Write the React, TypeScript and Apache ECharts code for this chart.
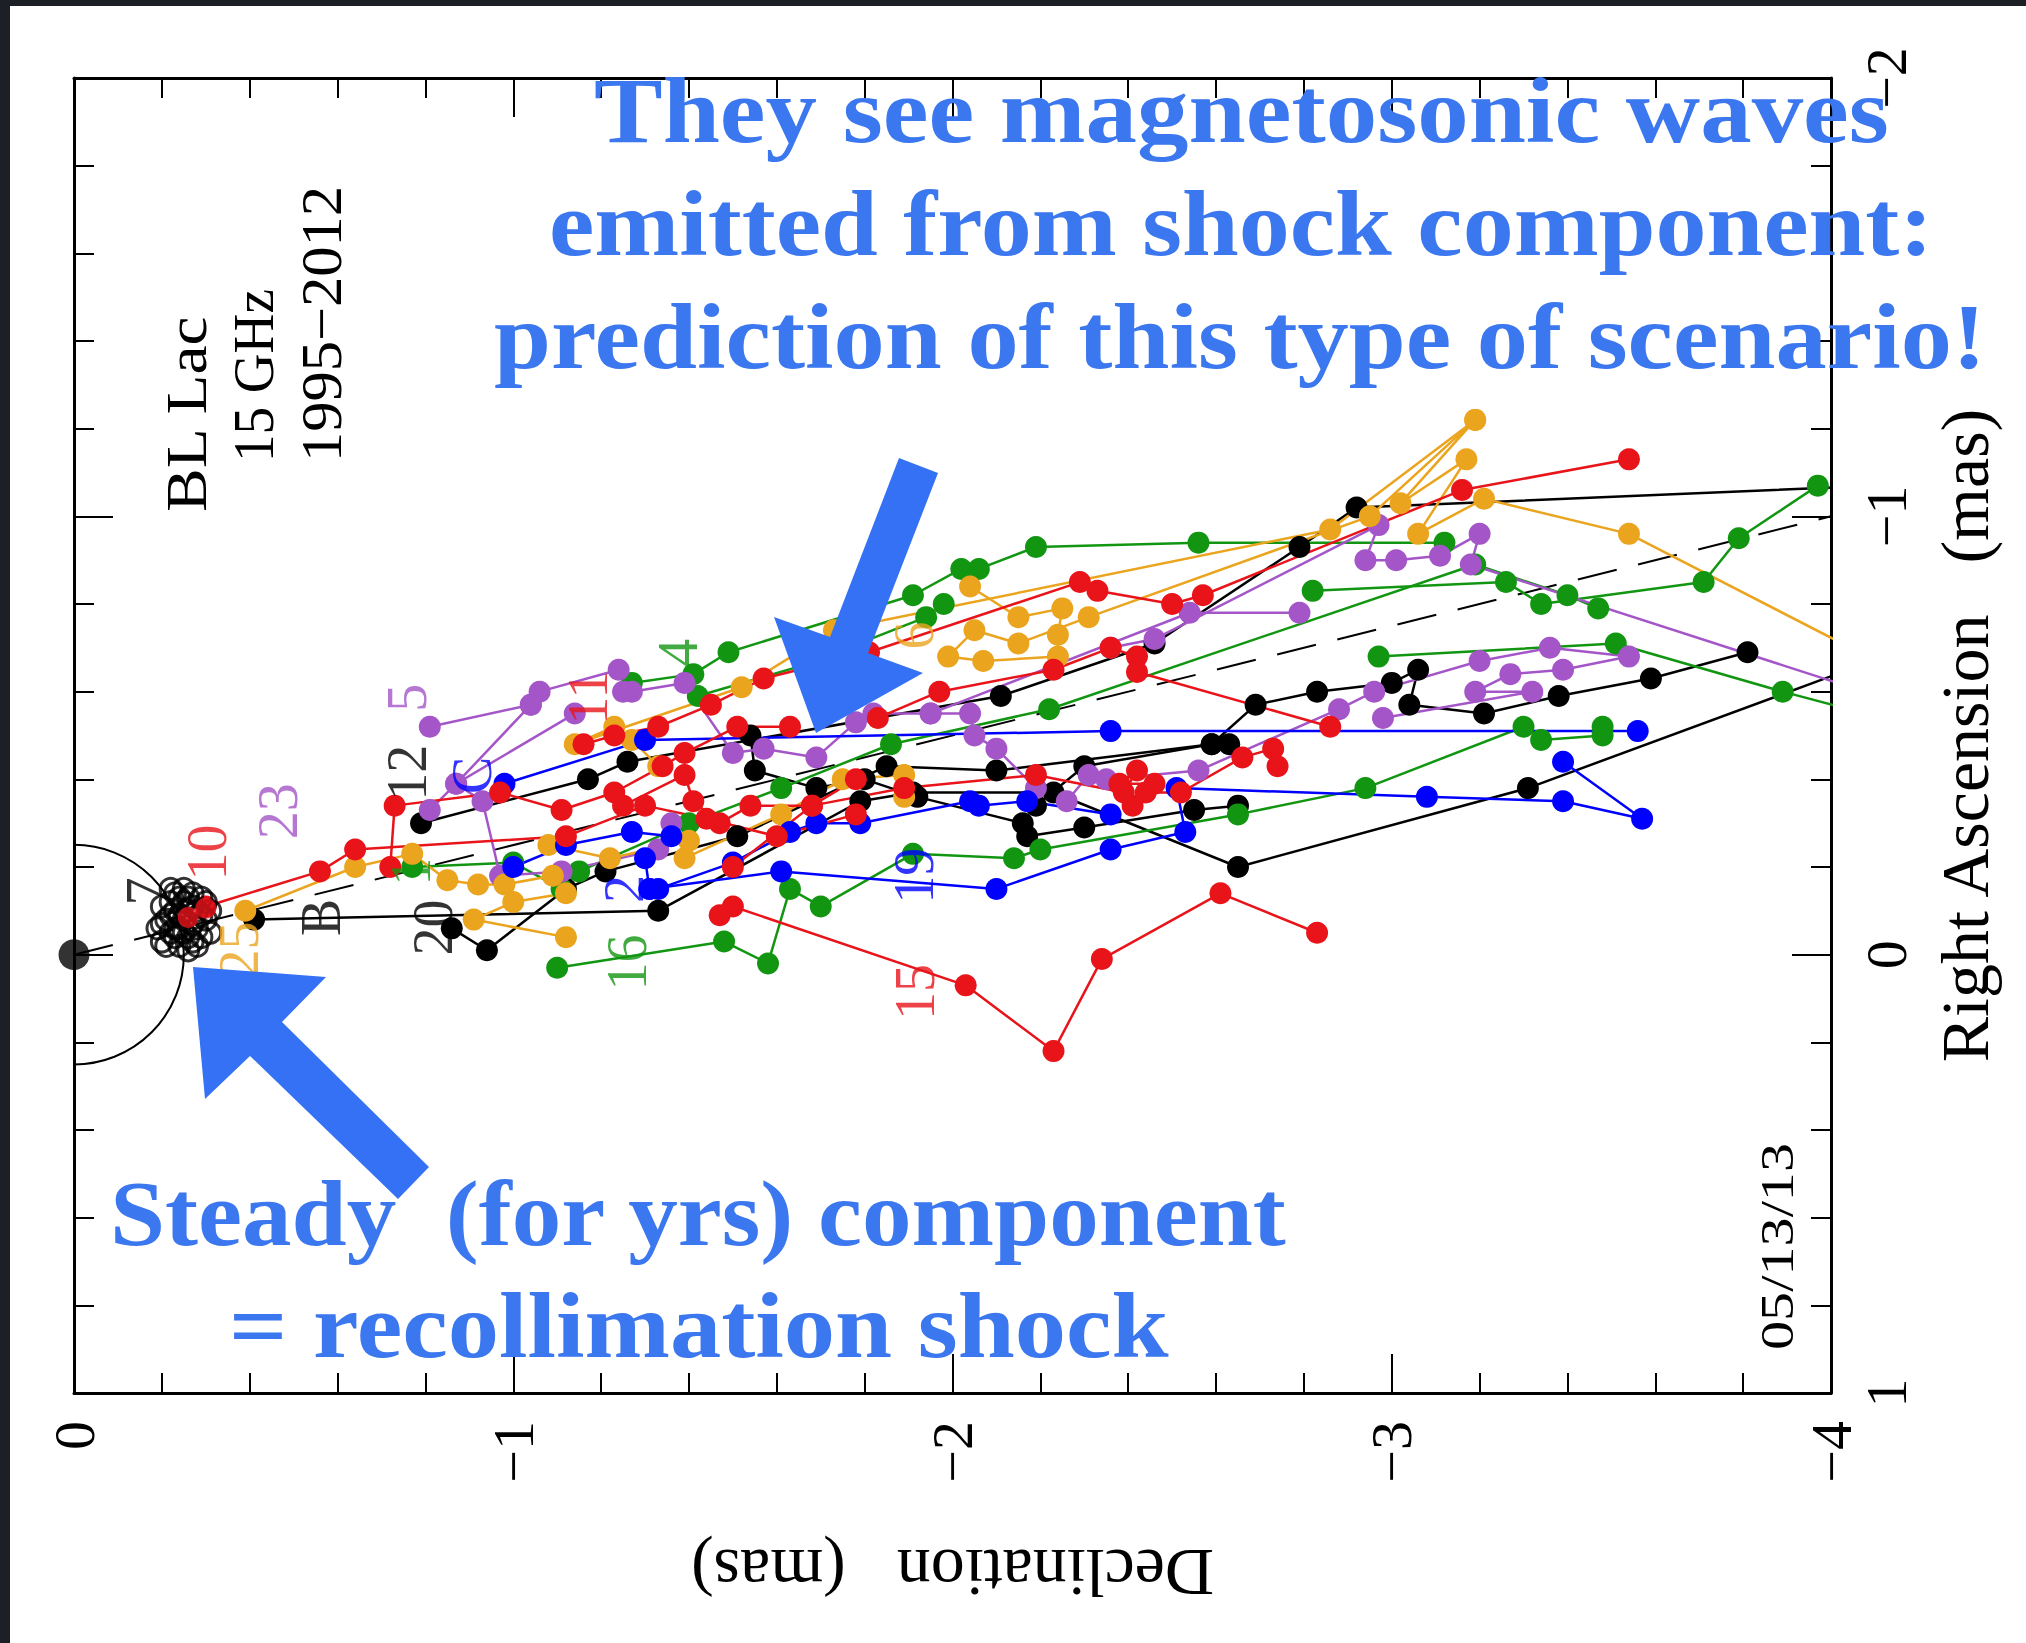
import React, { useEffect, useRef } from "react";
import * as echarts from "echarts";

// ---- axis tick labels ----
const xTickLabels: Record<string, string> = { "0": "0", "-1": "−1", "-2": "−2", "-3": "−3", "-4": "−4" };
const yTickLabels: Record<string, string> = { "-2": "−2", "-1": "−1", "0": "0", "1": "1" };

const COLORS: Record<string, string> = {
  k: "#000000",
  r: "#E8141A",
  g: "#129612",
  b: "#0000FF",
  p: "#A455C8",
  o: "#EBA41E",
};

// ---- component trajectories (Declination, Right Ascension) in mas ----
const compB = [[-0.41, -0.08], [-1.33, -0.1], [-1.79, -0.35], [-1.91, -0.37], [-2.23, -0.37], [-2.65, -0.2], [-3.31, -0.38], [-4.04, -0.65]];
const comp12 = [[-0.79, -0.3], [-1.17, -0.4], [-1.26, -0.44], [-2.11, -0.59], [-2.46, -0.71], [-2.79, -0.93], [-2.92, -1.02], [-4.1, -1.07]];
const comp20 = [[-0.86, -0.06], [-0.94, -0.01], [-1.12, -0.15], [-1.21, -0.19], [-1.51, -0.27], [-1.85, -0.43], [-2.1, -0.42], [-2.59, -0.48], [-2.69, -0.57], [-2.83, -0.6], [-3.0, -0.62], [-3.06, -0.65], [-3.04, -0.57], [-3.21, -0.55], [-3.38, -0.59], [-3.59, -0.63], [-3.81, -0.69]];
const compK4 = [[-1.54, -0.5], [-1.55, -0.42], [-1.69, -0.38], [-1.8, -0.4], [-1.92, -0.36], [-2.16, -0.3], [-2.17, -0.27], [-2.3, -0.29], [-2.55, -0.33], [-2.65, -0.34]];
const compK5 = [[-2.19, -0.34], [-2.3, -0.43], [-2.59, -0.48], [-2.63, -0.48]];

const comp10 = [[-0.3, -0.11], [-0.56, -0.19], [-0.64, -0.24], [-1.12, -0.27], [-1.3, -0.34], [-1.44, -0.31], [-1.6, -0.27], [-1.78, -0.32]];
const compR2 = [[-0.72, -0.2], [-0.73, -0.34], [-0.97, -0.37], [-1.11, -0.33], [-1.23, -0.37], [-1.34, -0.43], [-1.39, -0.46], [-1.51, -0.52], [-1.63, -0.52]];
const comp11 = [[-1.16, -0.48], [-1.23, -0.5], [-1.33, -0.52], [-1.45, -0.57], [-1.57, -0.63], [-1.81, -0.69], [-2.29, -0.85], [-2.33, -0.83], [-2.5, -0.8], [-2.57, -0.82], [-3.16, -1.06], [-3.54, -1.13]];
const comp15 = [[-1.47, -0.09], [-1.5, -0.11], [-2.03, 0.07], [-2.23, 0.22], [-2.34, 0.01], [-2.61, -0.14], [-2.83, -0.05]];
const compR7 = [[-1.5, -0.2], [-1.68, -0.34], [-1.89, -0.38], [-2.19, -0.41], [-2.39, -0.37], [-2.42, -0.42], [-2.38, -0.39], [-2.46, -0.39], [-2.41, -0.34], [-2.44, -0.37], [-2.52, -0.37], [-2.66, -0.45], [-2.73, -0.47], [-2.74, -0.43]];
const compR8 = [[-1.83, -0.54], [-1.97, -0.6], [-2.23, -0.65], [-2.36, -0.7], [-2.42, -0.68], [-2.42, -0.645], [-2.86, -0.52]];
const compR6 = [[-1.25, -0.34], [-1.39, -0.41], [-1.41, -0.35], [-1.47, -0.3], [-1.54, -0.34], [-1.68, -0.34], [-1.78, -0.4]];

const comp4 = [[-1.27, -0.62], [-1.41, -0.64], [-1.49, -0.69], [-1.91, -0.82], [-2.02, -0.88], [-2.06, -0.88], [-2.19, -0.93], [-2.56, -0.94], [-3.12, -0.94]];
const compG2 = [[-1.42, -0.59], [-1.66, -0.66], [-1.94, -0.77], [-1.98, -0.8]];
const comp1 = [[-0.77, -0.2], [-1.0, -0.21], [-1.11, -0.15], [-1.15, -0.19], [-1.4, -0.3], [-1.61, -0.38], [-1.86, -0.48], [-2.22, -0.56], [-3.19, -0.89], [-3.4, -0.82], [-3.47, -0.79]];
const compG5 = [[-2.82, -0.83], [-3.26, -0.85], [-3.34, -0.8], [-3.71, -0.85], [-3.79, -0.95], [-3.97, -1.07]];
const compG6 = [[-2.97, -0.68], [-3.51, -0.71], [-3.89, -0.6], [-4.04, -0.56]];
const comp16 = [[-1.1, 0.03], [-1.48, -0.03], [-1.58, 0.02], [-1.63, -0.15], [-1.7, -0.11], [-1.91, -0.23], [-2.14, -0.22], [-2.2, -0.24], [-2.65, -0.32], [-2.94, -0.38], [-3.3, -0.52], [-3.34, -0.49], [-3.48, -0.5], [-3.48, -0.52]];

const compC = [[-0.98, -0.39], [-1.3, -0.49], [-2.36, -0.51], [-3.56, -0.51]];
const comp2 = [[-1.0, -0.2], [-1.12, -0.25], [-1.27, -0.28], [-1.36, -0.27], [-1.3, -0.22], [-1.31, -0.15], [-1.33, -0.15], [-1.5, -0.21], [-1.63, -0.28], [-1.69, -0.3], [-1.79, -0.3], [-2.04, -0.35], [-2.06, -0.34], [-2.17, -0.35], [-2.36, -0.32]];
const comp19 = [[-1.31, -0.15], [-1.61, -0.19], [-2.1, -0.15], [-2.36, -0.24], [-2.53, -0.28], [-2.51, -0.38], [-3.08, -0.36], [-3.39, -0.35], [-3.57, -0.31], [-3.39, -0.44]];

const comp5 = [[-0.81, -0.52], [-1.04, -0.57], [-1.06, -0.6], [-1.24, -0.65]];
const compP5b = [[-1.04, -0.57], [-0.87, -0.39], [-1.14, -0.55]];
const comp23 = [[-0.81, -0.33], [-0.87, -0.39], [-0.93, -0.35], [-0.97, -0.18], [-1.11, -0.19], [-1.33, -0.24], [-1.36, -0.3]];
const compP2 = [[-1.25, -0.6], [-1.27, -0.6], [-1.39, -0.62], [-1.5, -0.46], [-1.57, -0.47], [-1.69, -0.45], [-1.78, -0.53], [-1.82, -0.55], [-1.95, -0.55], [-2.04, -0.55], [-2.05, -0.5], [-2.1, -0.47], [-2.19, -0.38], [-2.26, -0.35], [-2.31, -0.41], [-2.35, -0.4], [-2.56, -0.42], [-2.88, -0.56], [-2.96, -0.6], [-3.2, -0.67], [-3.36, -0.7], [-3.54, -0.68], [-3.39, -0.65], [-3.27, -0.64], [-3.19, -0.6], [-3.32, -0.6], [-2.98, -0.54]];
const compP3 = [[-2.36, -0.7], [-2.46, -0.72], [-2.97, -0.98], [-2.94, -0.9], [-3.01, -0.9], [-3.11, -0.91], [-3.2, -0.96], [-3.18, -0.89], [-4.2, -0.56]];
const compP4 = [[-1.95, -0.55], [-2.54, -0.78], [-2.79, -0.78]];

const comp25 = [[-0.39, -0.1], [-0.64, -0.2], [-0.77, -0.23], [-0.85, -0.17], [-0.92, -0.16], [-0.98, -0.16], [-1.09, -0.18], [-1.12, -0.14], [-1.0, -0.12], [-0.91, -0.08], [-1.12, -0.04]];
const compO2 = [[-1.08, -0.25], [-1.22, -0.22], [-1.4, -0.26], [-1.39, -0.22], [-1.61, -0.32], [-1.75, -0.4], [-1.89, -0.41], [-1.89, -0.36]];
const compO3 = [[-1.33, -0.43], [-1.27, -0.49], [-1.23, -0.52], [-1.14, -0.48], [-1.52, -0.61], [-1.73, -0.74], [-2.86, -0.97], [-3.19, -1.22]];
const comp6 = [[-2.04, -0.84], [-2.15, -0.77], [-2.25, -0.79], [-2.24, -0.73], [-2.24, -0.68], [-2.07, -0.67], [-1.99, -0.68], [-2.05, -0.74], [-2.15, -0.71], [-2.31, -0.77], [-2.95, -1.0], [-3.19, -1.22], [-3.02, -1.03], [-3.17, -1.13], [-3.06, -0.96], [-3.21, -1.04], [-3.54, -0.96], [-4.2, -0.62]];

// ---- core region ----
const coreRings = [
  [-0.2, -0.03], [-0.22, -0.05], [-0.24, -0.02], [-0.26, -0.04], [-0.28, -0.06], [-0.25, -0.08], [-0.23, -0.1],
  [-0.27, -0.11], [-0.29, -0.09], [-0.21, -0.08], [-0.19, -0.06], [-0.24, -0.13], [-0.27, -0.14], [-0.3, -0.12],
  [-0.22, -0.12], [-0.26, -0.01], [-0.2, -0.11], [-0.28, -0.02], [-0.31, -0.05], [-0.25, -0.15], [-0.23, -0.06],
  [-0.29, -0.13], [-0.21, -0.02], [-0.23, -0.04], [-0.25, -0.05], [-0.27, -0.07], [-0.24, -0.09], [-0.22, -0.09],
  [-0.26, -0.1], [-0.28, -0.1], [-0.3, -0.08], [-0.25, -0.12], [-0.23, -0.14], [-0.2, -0.07], [-0.27, -0.03],
  [-0.29, -0.04], [-0.24, -0.06], [-0.26, -0.13], [-0.31, -0.1], [-0.22, -0.15],
];
const coreRed = [[-0.26, -0.085], [-0.3, -0.106]];
const coreCenter = [[0, 0]];
const coreCircle = [[0, 0, 0.25]];
const jetAxis = [[0, 0], [-4, -1]];

// ---- component labels ----
const componentLabels = [
  { t: "7", c: "k", x: -0.165, y: -0.144 },
  { t: "10", c: "r", x: -0.303, y: -0.233 },
  { t: "23", c: "p", x: -0.465, y: -0.327 },
  { t: "5", c: "p", x: -0.759, y: -0.586 },
  { t: "12", c: "k", x: -0.759, y: -0.415 },
  { t: "C", c: "b", x: -0.906, y: -0.409 },
  { t: "11", c: "r", x: -1.171, y: -0.586 },
  { t: "4", c: "g", x: -1.376, y: -0.689 },
  { t: "6", c: "o", x: -1.912, y: -0.728 },
  { t: "1", c: "g", x: -0.768, y: -0.189 },
  { t: "20", c: "k", x: -0.818, y: -0.062 },
  { t: "B", c: "k", x: -0.562, y: -0.085 },
  { t: "25", c: "o", x: -0.376, y: -0.012 },
  { t: "16", c: "g", x: -1.259, y: 0.018 },
  { t: "2", c: "b", x: -1.253, y: -0.15 },
  { t: "19", c: "b", x: -1.912, y: -0.18 },
  { t: "15", c: "r", x: -1.915, y: 0.085 },
];

const trajectories: [number[][], string][] = [
  [compB, "k"], [comp12, "k"], [comp20, "k"], [compK4, "k"], [compK5, "k"],
  [comp4, "g"], [compG2, "g"], [comp1, "g"], [compG5, "g"], [compG6, "g"], [comp16, "g"],
  [comp5, "p"], [compP5b, "p"], [comp23, "p"], [compP2, "p"], [compP3, "p"], [compP4, "p"],
  [comp25, "o"], [compO2, "o"], [compO3, "o"], [comp6, "o"],
  [compC, "b"], [comp2, "b"], [comp19, "b"],
  [comp10, "r"], [compR2, "r"], [comp11, "r"], [comp15, "r"], [compR7, "r"], [compR8, "r"], [compR6, "r"],
];

const SERIF = '"Liberation Serif", "DejaVu Serif", serif';
const BLUE = "#3B77EF";
const ARROW = "#3471F5";

function measure(text: string, font: string): number {
  const c = document.createElement("canvas").getContext("2d")!;
  c.font = font;
  return c.measureText(text).width;
}

export default function App() {
  const ref = useRef<HTMLDivElement>(null);
  useEffect(() => {
    const chart = echarts.init(ref.current!, null, { renderer: "svg" });

    const axisCommon = {
      type: "value" as const,
      interval: 1,
      axisLine: { show: true, onZero: false, lineStyle: { color: "#000", width: 3 } },
      axisTick: { show: true, inside: true, length: 39, lineStyle: { color: "#000", width: 2 } },
      minorTick: { show: true, splitNumber: 5, length: 20, lineStyle: { color: "#000", width: 2 } },
      splitLine: { show: false },
      minorSplitLine: { show: false },
    };

    const blueFont = `bold 94px "Liberation Serif"`;
    const blueLines = [
      { t: "They see magnetosonic waves", x: 594, base: 142, w: 1295 },
      { t: "emitted from shock component:", x: 549, base: 255, w: 1385 },
      { t: "prediction of this type of scenario!", x: 494, base: 368, w: 1492 },
      { t: "Steady  (for yrs) component", x: 110, base: 1245, w: 1178 },
      { t: "= recollimation shock", x: 229, base: 1357, w: 940 },
    ];
    const infoLines = [
      { t: "BL Lac", x: 186, y: 512, len: 198, size: 58 },
      { t: "15 GHz", x: 254, y: 462, len: 173, size: 58 },
      { t: "1995−2012", x: 321, y: 462, len: 276, size: 58 },
      { t: "05/13/13", x: 1777, y: 1350, len: 207, size: 46 },
    ];

    const graphics: any[] = [
      { type: "rect", shape: { x: 0, y: 0, width: 10, height: 1643 }, style: { fill: "#1c2026" }, z: 200 },
      { type: "rect", shape: { x: 0, y: 0, width: 2026, height: 6 }, style: { fill: "#1c2026" }, z: 200 },
      {
        type: "polygon", z: 150,
        shape: { points: [[899, 458], [938, 473], [868, 653], [923, 673], [816, 733], [774, 617], [830, 637]] },
        style: { fill: ARROW },
      },
      {
        type: "polygon", z: 150,
        shape: { points: [[193, 967], [326, 977], [282, 1022], [429, 1167], [398, 1199], [250, 1056], [205, 1099]] },
        style: { fill: ARROW },
      },
    ];
    blueLines.forEach((l) => {
      const m = measure(l.t, blueFont);
      graphics.push({
        type: "text", z: 160, x: l.x, y: l.base - 32, scaleX: l.w / m,
        style: {
          text: l.t, fontSize: 94, fontWeight: "bold", fontFamily: "Liberation Serif", fill: BLUE,
          textAlign: "left", align: "left", textVerticalAlign: "middle", verticalAlign: "middle",
        },
      });
    });
    infoLines.forEach((l) => {
      const m = measure(l.t, `${l.size}px "Liberation Serif"`);
      graphics.push({
        type: "text", z: 160, x: l.x, y: l.y, rotation: Math.PI / 2, scaleX: l.len / m,
        style: {
          text: l.t, fontSize: l.size, fontFamily: "Liberation Serif", fill: "#000",
          textAlign: "left", align: "left", textVerticalAlign: "middle", verticalAlign: "middle",
        },
      });
    });

    const series: any[] = [];
    series.push({
      type: "line", data: jetAxis, symbol: "none", silent: true, z: 2,
      lineStyle: { color: "#000", width: 2, type: [40, 22] },
    });
    series.push({
      type: "custom", data: coreCircle, z: 2, silent: true, clip: false,
      renderItem: (_p: any, api: any) => {
        const c = api.coord([api.value(0), api.value(1)]);
        const r = Math.abs(api.size([api.value(2), 0])[0]);
        return {
          type: "arc",
          shape: { cx: c[0], cy: c[1], r, startAngle: -Math.PI / 2, endAngle: Math.PI / 2, clockwise: true },
          style: { stroke: "#000", lineWidth: 2, fill: "none" },
        };
      },
    });
    trajectories.forEach(([d, c]) => {
      series.push({
        type: "line", data: d, symbol: "circle", symbolSize: 22, showSymbol: true, clip: true, z: 3,
        lineStyle: { color: COLORS[c], width: 2.5 }, itemStyle: { color: COLORS[c] },
      });
    });
    series.push({
      type: "scatter", data: coreRings, symbol: "circle", symbolSize: 21, z: 4,
      itemStyle: { color: "rgba(0,0,0,0)", borderColor: "#000", borderWidth: 3 },
    });
    series.push({
      type: "scatter", data: coreRed, symbol: "circle", symbolSize: 21, z: 5,
      itemStyle: { color: COLORS.r },
    });
    series.push({
      type: "scatter", data: coreCenter, symbol: "circle", symbolSize: 31, z: 5, clip: false,
      itemStyle: { color: "#000" },
    });
    series.push({
      type: "scatter", symbolSize: 1, z: 6, silent: true,
      itemStyle: { color: "rgba(0,0,0,0)" },
      data: componentLabels.map((l) => ({
        value: [l.x, l.y],
        label: {
          show: true, formatter: l.t, position: "inside", rotate: 90,
          color: COLORS[l.c], fontSize: 56, fontFamily: SERIF,
        },
      })),
    });

    const option: any = {
      animation: false,
      backgroundColor: "#ffffff",
      textStyle: { fontFamily: SERIF },
      grid: { left: 74, right: 195, top: 78, bottom: 250, containLabel: false },
      xAxis: [
        {
          ...axisCommon, min: -4, max: 0, inverse: true, position: "bottom",
          axisLabel: {
            show: true, rotate: 90, margin: 28, fontSize: 58, color: "#000", fontFamily: SERIF,
            showMinLabel: true, showMaxLabel: true,
            formatter: (v: number) => xTickLabels[String(v)] ?? String(v),
          },
          name: "Declination   (mas)", nameLocation: "middle", nameGap: 146, nameRotate: 180,
          nameTextStyle: { fontSize: 68, color: "#000", fontFamily: SERIF },
        },
        { ...axisCommon, min: -4, max: 0, inverse: true, position: "top", axisLabel: { show: false } },
      ],
      yAxis: [
        {
          ...axisCommon, min: -2, max: 1, inverse: true, position: "right",
          axisLabel: {
            show: true, rotate: 90, margin: 26, fontSize: 58, color: "#000", fontFamily: SERIF,
            showMinLabel: true, showMaxLabel: true,
            formatter: (v: number) => yTickLabels[String(v)] ?? String(v),
          },
          name: "Right Ascension   (mas)", nameLocation: "middle", nameGap: 100, nameRotate: 90,
          nameTextStyle: { fontSize: 68, color: "#000", fontFamily: SERIF },
        },
        { ...axisCommon, min: -2, max: 1, inverse: true, position: "left", axisLabel: { show: false } },
      ],
      series,
      graphic: { elements: graphics },
    };
    chart.setOption(option);
    return () => chart.dispose();
  }, []);
  return (
    <div
      ref={ref}
      style={{ position: "absolute", left: 0, top: 0, width: 2026, height: 1643, background: "#fff" }}
    />
  );
}
